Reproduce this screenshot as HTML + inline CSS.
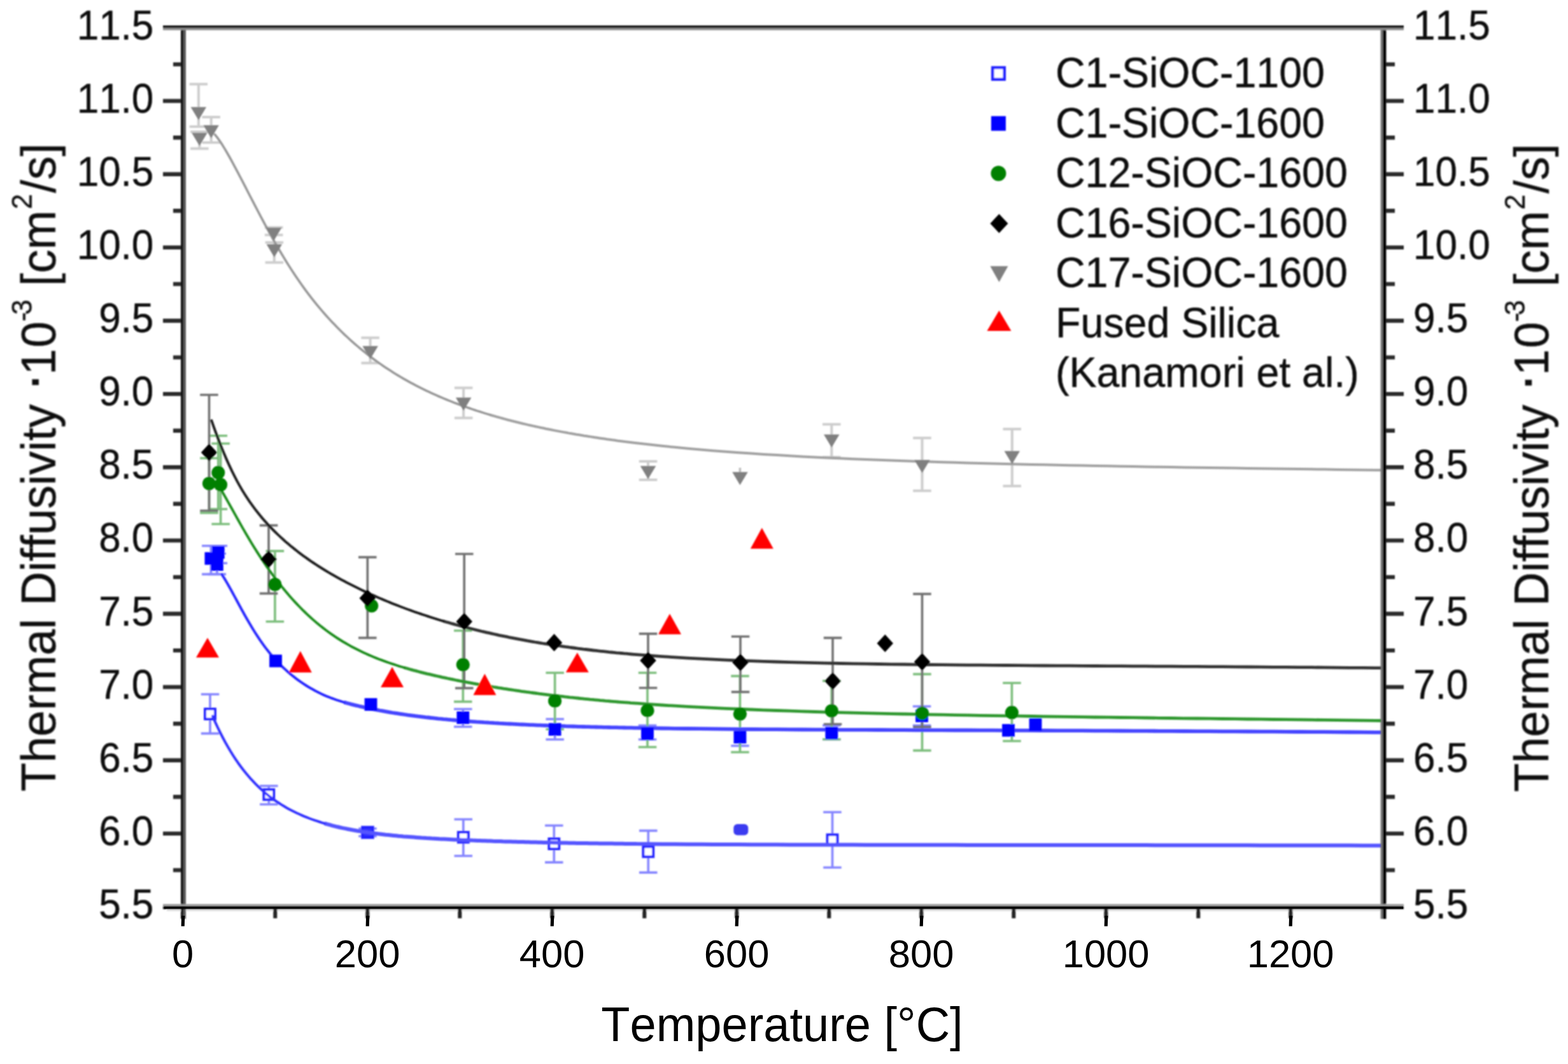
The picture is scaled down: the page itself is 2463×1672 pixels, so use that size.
<!DOCTYPE html>
<html lang="en">
<head>
<meta charset="utf-8">
<title>Thermal Diffusivity vs Temperature</title>
<style>
html,body{margin:0;padding:0;background:#fff;}
body{width:2463px;height:1672px;overflow:hidden;}
svg{display:block;}
text{font-family:"Liberation Sans",sans-serif;fill:#000;font-kerning:none;}
.yt{font-size:62px;fill:#111;stroke:#111;stroke-width:0.45px;}
.al{font-size:74px;fill:#111;stroke:#111;stroke-width:0.45px;}
.lg{font-size:64.5px;fill:#111;stroke:#111;stroke-width:0.45px;}
.xt{font-size:61.5px;}
.xl{font-size:74px;}
</style>
</head>
<body>
<svg width="2463" height="1672" viewBox="0 0 2463 1672">
<defs><filter id="soft" x="0" y="0" width="2463" height="1672" filterUnits="userSpaceOnUse"><feGaussianBlur stdDeviation="1.3"/></filter><filter id="soft2" x="0" y="0" width="2463" height="1672" filterUnits="userSpaceOnUse"><feGaussianBlur stdDeviation="0.8"/></filter></defs>
<rect width="2463" height="1672" fill="#fff"/>
<g filter="url(#soft)">
<g id="plot">
<path d="M311.9 132.3V199.0M297.6 132.3h28.5M297.6 199.0h28.5" stroke="#cdcdcd" stroke-width="4" fill="none" opacity="1"/>
<path d="M313.4 207.0V233.6M299.1 207.0h28.5M299.1 233.6h28.5" stroke="#cdcdcd" stroke-width="4" fill="none" opacity="1"/>
<path d="M331.7 184.0V223.9M317.4 184.0h28.5M317.4 223.9h28.5" stroke="#cdcdcd" stroke-width="4" fill="none" opacity="1"/>
<path d="M430.2 357.4V369.3M415.9 357.4h28.5M415.9 369.3h28.5" stroke="#cdcdcd" stroke-width="4" fill="none" opacity="1"/>
<path d="M430.8 381.0V412.4M416.6 381.0h28.5M416.6 412.4h28.5" stroke="#cdcdcd" stroke-width="4" fill="none" opacity="1"/>
<path d="M581.6 530.8V570.6M567.4 530.8h28.5M567.4 570.6h28.5" stroke="#cdcdcd" stroke-width="4" fill="none" opacity="1"/>
<path d="M728.1 609.4V656.8M713.9 609.4h28.5M713.9 656.8h28.5" stroke="#cdcdcd" stroke-width="4" fill="none" opacity="1"/>
<path d="M1018.0 725.0V754.0M1003.8 725.0h28.5M1003.8 754.0h28.5" stroke="#cdcdcd" stroke-width="4" fill="none" opacity="1"/>
<path d="M1306.3 666.8V718.5M1292.0 666.8h28.5M1292.0 718.5h28.5" stroke="#cdcdcd" stroke-width="4" fill="none" opacity="1"/>
<path d="M1448.5 688.3V771.3M1434.2 688.3h28.5M1434.2 771.3h28.5" stroke="#cdcdcd" stroke-width="4" fill="none" opacity="1"/>
<path d="M1589.8 674.3V763.7M1575.5 674.3h28.5M1575.5 763.7h28.5" stroke="#cdcdcd" stroke-width="4" fill="none" opacity="1"/>
<path d="M330.0 1091.0V1152.6M315.8 1091.0h28.5M315.8 1152.6h28.5" stroke="#8484ff" stroke-width="3.6" fill="none" opacity="1"/>
<path d="M422.3 1235.0V1264.0M408.1 1235.0h28.5M408.1 1264.0h28.5" stroke="#8484ff" stroke-width="3.6" fill="none" opacity="1"/>
<path d="M577.5 1302.0V1314.0M563.2 1302.0h28.5M563.2 1314.0h28.5" stroke="#8484ff" stroke-width="3.6" fill="none" opacity="1"/>
<path d="M727.8 1287.5V1345.0M713.5 1287.5h28.5M713.5 1345.0h28.5" stroke="#8484ff" stroke-width="3.6" fill="none" opacity="1"/>
<path d="M870.3 1297.3V1355.1M856.0 1297.3h28.5M856.0 1355.1h28.5" stroke="#8484ff" stroke-width="3.6" fill="none" opacity="1"/>
<path d="M1018.3 1305.4V1371.1M1004.0 1305.4h28.5M1004.0 1371.1h28.5" stroke="#8484ff" stroke-width="3.6" fill="none" opacity="1"/>
<path d="M1307.5 1276.3V1363.3M1293.2 1276.3h28.5M1293.2 1363.3h28.5" stroke="#8484ff" stroke-width="3.6" fill="none" opacity="1"/>
<path d="M331.4 857.7V902.4M317.1 857.7h28.5M317.1 902.4h28.5" stroke="#8484ff" stroke-width="3.6" fill="none" opacity="1"/>
<path d="M342.8 857.7V885.0M328.6 857.7h28.5M328.6 885.0h28.5" stroke="#8484ff" stroke-width="3.6" fill="none" opacity="1"/>
<path d="M340.9 870.0V902.4M326.6 870.0h28.5M326.6 902.4h28.5" stroke="#8484ff" stroke-width="3.6" fill="none" opacity="1"/>
<path d="M727.3 1114.2V1142.0M713.0 1114.2h28.5M713.0 1142.0h28.5" stroke="#8484ff" stroke-width="3.6" fill="none" opacity="1"/>
<path d="M871.6 1130.0V1162.0M857.4 1130.0h28.5M857.4 1162.0h28.5" stroke="#8484ff" stroke-width="3.6" fill="none" opacity="1"/>
<path d="M1017.0 1140.0V1162.0M1002.8 1140.0h28.5M1002.8 1162.0h28.5" stroke="#8484ff" stroke-width="3.6" fill="none" opacity="1"/>
<path d="M1162.4 1145.0V1172.0M1148.2 1145.0h28.5M1148.2 1172.0h28.5" stroke="#8484ff" stroke-width="3.6" fill="none" opacity="1"/>
<path d="M1306.3 1140.0V1161.7M1292.0 1140.0h28.5M1292.0 1161.7h28.5" stroke="#8484ff" stroke-width="3.6" fill="none" opacity="1"/>
<path d="M1448.0 1110.0V1140.0M1433.8 1110.0h28.5M1433.8 1140.0h28.5" stroke="#8484ff" stroke-width="3.6" fill="none" opacity="1"/>
<path d="M328.5 720.0V806.0M314.2 720.0h28.5M314.2 806.0h28.5" stroke="#7cbd7c" stroke-width="3.6" fill="none" opacity="1"/>
<path d="M342.8 684.7V800.0M328.6 684.7h28.5M328.6 800.0h28.5" stroke="#7cbd7c" stroke-width="3.6" fill="none" opacity="1"/>
<path d="M346.6 697.0V823.5M332.4 697.0h28.5M332.4 823.5h28.5" stroke="#7cbd7c" stroke-width="3.6" fill="none" opacity="1"/>
<path d="M431.9 865.9V976.8M417.6 865.9h28.5M417.6 976.8h28.5" stroke="#7cbd7c" stroke-width="3.6" fill="none" opacity="1"/>
<path d="M727.3 991.0V1102.6M713.0 991.0h28.5M713.0 1102.6h28.5" stroke="#7cbd7c" stroke-width="3.6" fill="none" opacity="1"/>
<path d="M871.6 1057.3V1146.0M857.4 1057.3h28.5M857.4 1146.0h28.5" stroke="#7cbd7c" stroke-width="3.6" fill="none" opacity="1"/>
<path d="M1017.0 1057.3V1174.0M1002.8 1057.3h28.5M1002.8 1174.0h28.5" stroke="#7cbd7c" stroke-width="3.6" fill="none" opacity="1"/>
<path d="M1162.4 1062.4V1182.0M1148.2 1062.4h28.5M1148.2 1182.0h28.5" stroke="#7cbd7c" stroke-width="3.6" fill="none" opacity="1"/>
<path d="M1306.3 1070.0V1161.7M1292.0 1070.0h28.5M1292.0 1161.7h28.5" stroke="#7cbd7c" stroke-width="3.6" fill="none" opacity="1"/>
<path d="M1448.5 1059.4V1179.4M1434.2 1059.4h28.5M1434.2 1179.4h28.5" stroke="#7cbd7c" stroke-width="3.6" fill="none" opacity="1"/>
<path d="M1589.4 1073.2V1164.5M1575.2 1073.2h28.5M1575.2 1164.5h28.5" stroke="#7cbd7c" stroke-width="3.6" fill="none" opacity="1"/>
<path d="M328.5 620.5V802.5M314.2 620.5h28.5M314.2 802.5h28.5" stroke="#707070" stroke-width="3.6" fill="none" opacity="1"/>
<path d="M422.0 825.6V932.6M407.8 825.6h28.5M407.8 932.6h28.5" stroke="#707070" stroke-width="3.6" fill="none" opacity="1"/>
<path d="M577.3 875.6V1002.4M563.0 875.6h28.5M563.0 1002.4h28.5" stroke="#707070" stroke-width="3.6" fill="none" opacity="1"/>
<path d="M729.2 870.5V1081.4M715.0 870.5h28.5M715.0 1081.4h28.5" stroke="#707070" stroke-width="3.6" fill="none" opacity="1"/>
<path d="M1018.0 995.9V1081.0M1003.8 995.9h28.5M1003.8 1081.0h28.5" stroke="#707070" stroke-width="3.6" fill="none" opacity="1"/>
<path d="M1163.0 1000.2V1087.4M1148.8 1000.2h28.5M1148.8 1087.4h28.5" stroke="#707070" stroke-width="3.6" fill="none" opacity="1"/>
<path d="M1308.0 1002.4V1138.0M1293.8 1002.4h28.5M1293.8 1138.0h28.5" stroke="#707070" stroke-width="3.6" fill="none" opacity="1"/>
<path d="M1448.5 933.4V1142.4M1434.2 933.4h28.5M1434.2 1142.4h28.5" stroke="#707070" stroke-width="3.6" fill="none" opacity="1"/>
<path d="M1162.4 735V744" stroke="#bdbdbd" stroke-width="3.5" fill="none"/>
<rect x="322.1" y="1114.1" width="15.8" height="15.8" fill="#fff" stroke="#2020ff" stroke-width="4.0"/>
<rect x="414.4" y="1240.7" width="15.8" height="15.8" fill="#fff" stroke="#2020ff" stroke-width="4.0"/>
<rect x="569.2" y="1299.8" width="16.5" height="16.5" fill="#3030ff" stroke="#2020ff" stroke-width="4.0"/>
<rect x="719.9" y="1307.8" width="15.8" height="15.8" fill="#fff" stroke="#2020ff" stroke-width="4.0"/>
<rect x="862.4" y="1318.1" width="15.8" height="15.8" fill="#fff" stroke="#2020ff" stroke-width="4.0"/>
<rect x="1010.4" y="1330.5" width="15.8" height="15.8" fill="#fff" stroke="#2020ff" stroke-width="4.0"/>
<rect x="1152.3" y="1294.9" width="23" height="17.6" rx="6" fill="#3a3af0"/>
<rect x="1299.6" y="1311.7" width="15.8" height="15.8" fill="#fff" stroke="#2020ff" stroke-width="4.0"/>
<path d="M509.9 1294.0 L513.9 1295.1 L517.9 1296.2 L521.9 1297.3 L525.9 1298.3 L529.9 1299.3 L533.9 1300.2 L537.9 1301.1 L541.9 1301.9 L545.9 1302.7 L549.9 1303.5 L553.9 1304.3 L557.9 1305.0 L561.9 1305.7 L565.9 1306.3 L569.9 1307.0 L573.9 1307.6 L577.9 1308.1 L581.9 1308.7 L585.9 1309.3 L589.9 1309.8 L593.9 1310.3 L597.9 1310.7 L601.9 1311.2 L605.9 1311.7 L609.9 1312.1 L613.9 1312.5 L617.9 1312.9 L621.9 1313.3 L625.9 1313.7 L629.9 1314.0 L633.9 1314.4 L637.9 1314.7 L641.9 1315.0 L645.9 1315.3 L649.9 1315.6 L653.9 1315.9 L657.9 1316.2 L661.9 1316.5 L665.9 1316.7 L669.9 1317.0 L673.9 1317.2 L677.9 1317.5 L681.9 1317.7 L685.9 1317.9 L689.9 1318.2 L693.9 1318.4 L697.9 1318.6 L701.9 1318.8 L705.9 1319.0 L709.9 1319.2 L713.9 1319.4 L717.9 1319.6 L721.9 1319.7 L725.9 1319.9 L729.9 1320.1 L733.9 1320.3 L737.9 1320.4 L741.9 1320.6 L745.9 1320.7 L749.9 1320.9 L753.9 1321.0 L757.9 1321.2 L761.9 1321.3 L765.9 1321.5 L769.9 1321.6 L773.9 1321.8 L777.9 1321.9 L781.9 1322.0 L785.9 1322.1 L789.9 1322.3 L793.9 1322.4 L797.9 1322.5 L801.9 1322.6 L805.9 1322.7 L809.9 1322.8 L813.9 1322.9 L817.9 1323.0 L821.9 1323.1 L825.9 1323.2 L829.9 1323.3 L833.9 1323.4 L837.9 1323.5 L841.9 1323.6 L845.9 1323.7 L849.9 1323.8 L853.9 1323.9 L857.9 1324.0 L861.9 1324.1 L865.9 1324.1 L869.9 1324.2 L873.9 1324.3 L877.9 1324.4 L881.9 1324.4 L885.9 1324.5 L889.9 1324.6 L893.9 1324.7 L897.9 1324.7 L901.9 1324.8 L905.9 1324.9 L909.9 1324.9 L913.9 1325.0 L917.9 1325.1 L921.9 1325.1 L925.9 1325.2 L929.9 1325.2 L933.9 1325.3 L937.9 1325.3 L941.9 1325.4 L945.9 1325.4 L949.9 1325.5 L953.9 1325.5 L957.9 1325.6 L961.9 1325.6 L965.9 1325.7 L969.9 1325.7 L973.9 1325.8 L977.9 1325.8 L981.9 1325.9 L985.9 1325.9 L989.9 1326.0 L993.9 1326.0 L997.9 1326.0 L1000.0 1326.1 L1020.0 1326.2 L1040.0 1326.4 L1060.0 1326.6 L1080.0 1326.7 L1100.0 1326.8 L1120.0 1326.9 L1140.0 1327.0 L1160.0 1327.1 L1180.0 1327.2 L1200.0 1327.3 L1220.0 1327.3 L1240.0 1327.4 L1260.0 1327.5 L1280.0 1327.5 L1300.0 1327.6 L1320.0 1327.6 L1340.0 1327.6 L1360.0 1327.7 L1380.0 1327.7 L1400.0 1327.7 L1420.0 1327.7 L1440.0 1327.8 L1460.0 1327.8 L1480.0 1327.8 L1500.0 1327.8 L1520.0 1327.9 L1540.0 1327.9 L1560.0 1327.9 L1580.0 1327.9 L1600.0 1327.9 L1620.0 1328.0 L1640.0 1328.0 L1660.0 1328.0 L1680.0 1328.0 L1700.0 1328.0 L1720.0 1328.0 L1740.0 1328.1 L1760.0 1328.1 L1780.0 1328.1 L1800.0 1328.1 L1820.0 1328.2 L1840.0 1328.2 L1860.0 1328.2 L1880.0 1328.2 L1900.0 1328.3 L1920.0 1328.3 L1940.0 1328.3 L1960.0 1328.3 L1980.0 1328.4 L2000.0 1328.4 L2020.0 1328.4 L2040.0 1328.5 L2060.0 1328.5 L2080.0 1328.5 L2100.0 1328.6 L2120.0 1328.6 L2140.0 1328.7 L2160.0 1328.7 L2171.5 1328.7" fill="none" stroke="#5454ff" stroke-width="6.0" stroke-linejoin="round"/>
<path d="M333.9 1125.4 L337.9 1134.4 L341.9 1143.0 L345.9 1151.2 L349.9 1159.0 L353.9 1166.5 L357.9 1173.5 L361.9 1180.3 L365.9 1186.7 L369.9 1192.8 L373.9 1198.7 L377.9 1204.2 L381.9 1209.5 L385.9 1214.5 L389.9 1219.3 L393.9 1223.9 L397.9 1228.2 L401.9 1232.4 L405.9 1236.3 L409.9 1240.1 L413.9 1243.6 L417.9 1247.0 L421.9 1250.3 L425.9 1253.4 L429.9 1256.3 L433.9 1259.2 L437.9 1261.8 L441.9 1264.4 L445.9 1266.8 L449.9 1269.2 L453.9 1271.4 L457.9 1273.5 L461.9 1275.5 L465.9 1277.5 L469.9 1279.3 L473.9 1281.1 L477.9 1282.8 L481.9 1284.4 L485.9 1286.0 L489.9 1287.5 L493.9 1288.9 L497.9 1290.2 L501.9 1291.5 L505.9 1292.8 L509.9 1294.0" fill="none" stroke="#3030ff" stroke-width="4.0" stroke-linejoin="round" stroke-linecap="round"/>
<path d="M540.5 1103.6 L544.5 1104.7 L548.5 1105.8 L552.5 1106.9 L556.5 1107.9 L560.5 1108.8 L564.5 1109.8 L568.5 1110.7 L572.5 1111.6 L576.5 1112.5 L580.5 1113.3 L584.5 1114.2 L588.5 1115.0 L592.5 1115.7 L596.5 1116.5 L600.5 1117.2 L604.5 1117.9 L608.5 1118.6 L612.5 1119.3 L616.5 1120.0 L620.5 1120.6 L624.5 1121.2 L628.5 1121.8 L632.5 1122.4 L636.5 1123.0 L640.5 1123.6 L644.5 1124.1 L648.5 1124.6 L652.5 1125.2 L656.5 1125.7 L660.5 1126.1 L664.5 1126.6 L668.5 1127.1 L672.5 1127.5 L676.5 1128.0 L680.5 1128.4 L684.5 1128.8 L688.5 1129.3 L692.5 1129.7 L696.5 1130.1 L700.5 1130.4 L704.5 1130.8 L708.5 1131.2 L712.5 1131.5 L716.5 1131.9 L720.5 1132.2 L724.5 1132.5 L728.5 1132.9 L732.5 1133.2 L736.5 1133.5 L740.5 1133.8 L744.5 1134.1 L748.5 1134.4 L752.5 1134.6 L756.5 1134.9 L760.5 1135.2 L764.5 1135.4 L768.5 1135.7 L772.5 1135.9 L776.5 1136.2 L780.5 1136.4 L784.5 1136.7 L788.5 1136.9 L792.5 1137.1 L796.5 1137.3 L800.5 1137.5 L804.5 1137.7 L808.5 1137.9 L812.5 1138.1 L816.5 1138.3 L820.5 1138.5 L824.5 1138.7 L828.5 1138.9 L832.5 1139.1 L836.5 1139.2 L840.5 1139.4 L844.5 1139.6 L848.5 1139.7 L852.5 1139.9 L856.5 1140.0 L860.5 1140.2 L864.5 1140.3 L868.5 1140.5 L872.5 1140.6 L876.5 1140.8 L880.5 1140.9 L884.5 1141.0 L888.5 1141.2 L892.5 1141.3 L896.5 1141.4 L900.5 1141.5 L904.5 1141.6 L908.5 1141.8 L912.5 1141.9 L916.5 1142.0 L920.5 1142.1 L924.5 1142.2 L928.5 1142.3 L932.5 1142.4 L936.5 1142.5 L940.5 1142.6 L944.5 1142.7 L948.5 1142.8 L952.5 1142.9 L956.5 1143.0 L960.5 1143.1 L964.5 1143.2 L968.5 1143.2 L972.5 1143.3 L976.5 1143.4 L980.5 1143.5 L984.5 1143.6 L988.5 1143.6 L992.5 1143.7 L996.5 1143.8 L1000.0 1143.8 L1020.0 1144.2 L1040.0 1144.5 L1060.0 1144.8 L1080.0 1145.0 L1100.0 1145.2 L1120.0 1145.4 L1140.0 1145.6 L1160.0 1145.8 L1180.0 1146.0 L1200.0 1146.1 L1220.0 1146.2 L1240.0 1146.4 L1260.0 1146.5 L1280.0 1146.6 L1300.0 1146.7 L1320.0 1146.8 L1340.0 1146.9 L1360.0 1146.9 L1380.0 1147.0 L1400.0 1147.1 L1420.0 1147.2 L1440.0 1147.3 L1460.0 1147.3 L1480.0 1147.4 L1500.0 1147.5 L1520.0 1147.5 L1540.0 1147.6 L1560.0 1147.7 L1580.0 1147.8 L1600.0 1147.8 L1620.0 1147.9 L1640.0 1148.0 L1660.0 1148.1 L1680.0 1148.1 L1700.0 1148.2 L1720.0 1148.3 L1740.0 1148.4 L1760.0 1148.5 L1780.0 1148.6 L1800.0 1148.7 L1820.0 1148.8 L1840.0 1148.9 L1860.0 1149.0 L1880.0 1149.1 L1900.0 1149.2 L1920.0 1149.3 L1940.0 1149.4 L1960.0 1149.5 L1980.0 1149.6 L2000.0 1149.7 L2020.0 1149.9 L2040.0 1150.0 L2060.0 1150.1 L2080.0 1150.2 L2100.0 1150.4 L2120.0 1150.5 L2140.0 1150.7 L2160.0 1150.8 L2171.5 1150.9" fill="none" stroke="#4444ff" stroke-width="5.8" stroke-linejoin="round"/>
<path d="M348.5 902.7 L352.5 909.0 L356.5 915.8 L360.5 922.8 L364.5 930.0 L368.5 937.4 L372.5 944.8 L376.5 952.2 L380.5 959.5 L384.5 966.7 L388.5 973.7 L392.5 980.6 L396.5 987.3 L400.5 993.7 L404.5 999.9 L408.5 1005.9 L412.5 1011.6 L416.5 1017.1 L420.5 1022.3 L424.5 1027.3 L428.5 1032.0 L432.5 1036.5 L436.5 1040.8 L440.5 1044.8 L444.5 1048.7 L448.5 1052.4 L452.5 1056.0 L456.5 1059.4 L460.5 1062.7 L464.5 1065.8 L468.5 1068.8 L472.5 1071.7 L476.5 1074.4 L480.5 1077.0 L484.5 1079.5 L488.5 1081.8 L492.5 1084.1 L496.5 1086.3 L500.5 1088.3 L504.5 1090.2 L508.5 1092.1 L512.5 1093.8 L516.5 1095.4 L520.5 1097.0 L524.5 1098.4 L528.5 1099.8 L532.5 1101.1 L536.5 1102.4 L540.5 1103.6" fill="none" stroke="#2626ff" stroke-width="4.0" stroke-linejoin="round" stroke-linecap="round"/>
<path d="M635.0 1049.2 L639.0 1050.3 L643.0 1051.5 L647.0 1052.6 L651.0 1053.7 L655.0 1054.7 L659.0 1055.8 L663.0 1056.8 L667.0 1057.8 L671.0 1058.8 L675.0 1059.7 L679.0 1060.7 L683.0 1061.6 L687.0 1062.5 L691.0 1063.4 L695.0 1064.3 L699.0 1065.1 L703.0 1066.0 L707.0 1066.8 L711.0 1067.6 L715.0 1068.5 L719.0 1069.3 L723.0 1070.1 L727.0 1070.8 L731.0 1071.6 L735.0 1072.4 L739.0 1073.1 L743.0 1073.9 L747.0 1074.6 L751.0 1075.3 L755.0 1076.0 L759.0 1076.8 L763.0 1077.4 L767.0 1078.1 L771.0 1078.8 L775.0 1079.5 L779.0 1080.1 L783.0 1080.8 L787.0 1081.4 L791.0 1082.1 L795.0 1082.7 L799.0 1083.3 L803.0 1083.9 L807.0 1084.5 L811.0 1085.1 L815.0 1085.7 L819.0 1086.3 L823.0 1086.8 L827.0 1087.4 L831.0 1087.9 L835.0 1088.5 L839.0 1089.0 L843.0 1089.5 L847.0 1090.1 L851.0 1090.6 L855.0 1091.1 L859.0 1091.6 L863.0 1092.1 L867.0 1092.6 L871.0 1093.0 L875.0 1093.5 L879.0 1094.0 L883.0 1094.4 L887.0 1094.9 L891.0 1095.3 L895.0 1095.8 L899.0 1096.2 L903.0 1096.6 L907.0 1097.0 L911.0 1097.5 L915.0 1097.9 L919.0 1098.3 L923.0 1098.7 L927.0 1099.1 L931.0 1099.4 L935.0 1099.8 L939.0 1100.2 L943.0 1100.6 L947.0 1100.9 L951.0 1101.3 L955.0 1101.6 L959.0 1102.0 L963.0 1102.3 L967.0 1102.6 L971.0 1103.0 L975.0 1103.3 L979.0 1103.6 L983.0 1103.9 L987.0 1104.2 L991.0 1104.6 L995.0 1104.9 L999.0 1105.2 L1000.0 1105.2 L1020.0 1106.6 L1040.0 1108.0 L1060.0 1109.2 L1080.0 1110.3 L1100.0 1111.4 L1120.0 1112.4 L1140.0 1113.3 L1160.0 1114.2 L1180.0 1115.0 L1200.0 1115.8 L1220.0 1116.5 L1240.0 1117.2 L1260.0 1117.9 L1280.0 1118.5 L1300.0 1119.1 L1320.0 1119.6 L1340.0 1120.1 L1360.0 1120.6 L1380.0 1121.1 L1400.0 1121.6 L1420.0 1122.0 L1440.0 1122.4 L1460.0 1122.8 L1480.0 1123.2 L1500.0 1123.6 L1520.0 1123.9 L1540.0 1124.3 L1560.0 1124.6 L1580.0 1124.9 L1600.0 1125.2 L1620.0 1125.5 L1640.0 1125.8 L1660.0 1126.1 L1680.0 1126.4 L1700.0 1126.7 L1720.0 1127.0 L1740.0 1127.2 L1760.0 1127.5 L1780.0 1127.7 L1800.0 1128.0 L1820.0 1128.3 L1840.0 1128.5 L1860.0 1128.8 L1880.0 1129.0 L1900.0 1129.2 L1920.0 1129.5 L1940.0 1129.7 L1960.0 1130.0 L1980.0 1130.2 L2000.0 1130.5 L2020.0 1130.7 L2040.0 1130.9 L2060.0 1131.2 L2080.0 1131.4 L2100.0 1131.7 L2120.0 1131.9 L2140.0 1132.1 L2160.0 1132.4 L2171.5 1132.5" fill="none" stroke="#2f972f" stroke-width="4.8" stroke-linejoin="round"/>
<path d="M343.0 762.8 L347.0 769.3 L351.0 776.1 L355.0 783.0 L359.0 790.1 L363.0 797.3 L367.0 804.4 L371.0 811.6 L375.0 818.8 L379.0 825.9 L383.0 832.9 L387.0 839.8 L391.0 846.6 L395.0 853.2 L399.0 859.7 L403.0 866.1 L407.0 872.4 L411.0 878.5 L415.0 884.5 L419.0 890.3 L423.0 896.0 L427.0 901.5 L431.0 906.9 L435.0 912.2 L439.0 917.4 L443.0 922.4 L447.0 927.3 L451.0 932.1 L455.0 936.7 L459.0 941.2 L463.0 945.6 L467.0 949.9 L471.0 954.0 L475.0 958.1 L479.0 962.0 L483.0 965.8 L487.0 969.5 L491.0 973.1 L495.0 976.6 L499.0 980.0 L503.0 983.3 L507.0 986.4 L511.0 989.5 L515.0 992.5 L519.0 995.4 L523.0 998.2 L527.0 1000.9 L531.0 1003.5 L535.0 1006.0 L539.0 1008.5 L543.0 1010.8 L547.0 1013.1 L551.0 1015.4 L555.0 1017.5 L559.0 1019.6 L563.0 1021.6 L567.0 1023.6 L571.0 1025.5 L575.0 1027.3 L579.0 1029.1 L583.0 1030.8 L587.0 1032.5 L591.0 1034.1 L595.0 1035.7 L599.0 1037.2 L603.0 1038.7 L607.0 1040.1 L611.0 1041.5 L615.0 1042.9 L619.0 1044.2 L623.0 1045.5 L627.0 1046.8 L631.0 1048.0 L635.0 1049.2" fill="none" stroke="#1a8c1a" stroke-width="3.9" stroke-linejoin="round" stroke-linecap="round"/>
<path d="M769.5 651.8 L773.5 653.0 L777.5 654.1 L781.5 655.3 L785.5 656.4 L789.5 657.5 L793.5 658.6 L797.5 659.7 L801.5 660.7 L805.5 661.7 L809.5 662.7 L813.5 663.7 L817.5 664.7 L821.5 665.7 L825.5 666.6 L829.5 667.6 L833.5 668.5 L837.5 669.4 L841.5 670.3 L845.5 671.1 L849.5 672.0 L853.5 672.8 L857.5 673.7 L861.5 674.5 L865.5 675.3 L869.5 676.1 L873.5 676.9 L877.5 677.6 L881.5 678.4 L885.5 679.1 L889.5 679.8 L893.5 680.6 L897.5 681.3 L901.5 682.0 L905.5 682.7 L909.5 683.3 L913.5 684.0 L917.5 684.7 L921.5 685.3 L925.5 685.9 L929.5 686.6 L933.5 687.2 L937.5 687.8 L941.5 688.4 L945.5 689.0 L949.5 689.6 L953.5 690.2 L957.5 690.7 L961.5 691.3 L965.5 691.8 L969.5 692.4 L973.5 692.9 L977.5 693.4 L981.5 694.0 L985.5 694.5 L989.5 695.0 L993.5 695.5 L997.5 696.0 L1000.0 696.3 L1020.0 698.6 L1040.0 700.8 L1060.0 702.8 L1080.0 704.7 L1100.0 706.5 L1120.0 708.2 L1140.0 709.7 L1160.0 711.2 L1180.0 712.6 L1200.0 713.9 L1220.0 715.1 L1240.0 716.3 L1260.0 717.4 L1280.0 718.4 L1300.0 719.4 L1320.0 720.3 L1340.0 721.2 L1360.0 722.0 L1380.0 722.8 L1400.0 723.5 L1420.0 724.3 L1440.0 724.9 L1460.0 725.6 L1480.0 726.2 L1500.0 726.8 L1520.0 727.4 L1540.0 727.9 L1560.0 728.4 L1580.0 728.9 L1600.0 729.4 L1620.0 729.9 L1640.0 730.3 L1660.0 730.8 L1680.0 731.2 L1700.0 731.6 L1720.0 732.0 L1740.0 732.3 L1760.0 732.7 L1780.0 733.1 L1800.0 733.4 L1820.0 733.8 L1840.0 734.1 L1860.0 734.4 L1880.0 734.7 L1900.0 735.0 L1920.0 735.3 L1940.0 735.6 L1960.0 735.9 L1980.0 736.2 L2000.0 736.5 L2020.0 736.8 L2040.0 737.1 L2060.0 737.3 L2080.0 737.6 L2100.0 737.9 L2120.0 738.2 L2140.0 738.4 L2160.0 738.7 L2171.5 738.8" fill="none" stroke="#a0a0a0" stroke-width="4.0" stroke-linejoin="round"/>
<path d="M337.5 211.3 L341.5 216.4 L345.5 222.0 L349.5 228.1 L353.5 234.6 L357.5 241.5 L361.5 248.5 L365.5 255.8 L369.5 263.3 L373.5 270.8 L377.5 278.5 L381.5 286.2 L385.5 293.9 L389.5 301.7 L393.5 309.5 L397.5 317.2 L401.5 324.9 L405.5 332.5 L409.5 340.1 L413.5 347.6 L417.5 355.1 L421.5 362.4 L425.5 369.6 L429.5 376.8 L433.5 383.8 L437.5 390.7 L441.5 397.5 L445.5 404.2 L449.5 410.7 L453.5 417.1 L457.5 423.4 L461.5 429.5 L465.5 435.5 L469.5 441.3 L473.5 447.0 L477.5 452.6 L481.5 458.1 L485.5 463.4 L489.5 468.6 L493.5 473.6 L497.5 478.6 L501.5 483.4 L505.5 488.1 L509.5 492.7 L513.5 497.2 L517.5 501.6 L521.5 505.9 L525.5 510.1 L529.5 514.3 L533.5 518.3 L537.5 522.2 L541.5 526.1 L545.5 529.8 L549.5 533.5 L553.5 537.1 L557.5 540.6 L561.5 544.0 L565.5 547.4 L569.5 550.7 L573.5 553.9 L577.5 557.1 L581.5 560.2 L585.5 563.2 L589.5 566.2 L593.5 569.1 L597.5 571.9 L601.5 574.7 L605.5 577.4 L609.5 580.0 L613.5 582.6 L617.5 585.2 L621.5 587.7 L625.5 590.1 L629.5 592.5 L633.5 594.9 L637.5 597.1 L641.5 599.4 L645.5 601.6 L649.5 603.7 L653.5 605.8 L657.5 607.9 L661.5 609.9 L665.5 611.9 L669.5 613.8 L673.5 615.7 L677.5 617.6 L681.5 619.4 L685.5 621.2 L689.5 623.0 L693.5 624.7 L697.5 626.4 L701.5 628.0 L705.5 629.6 L709.5 631.2 L713.5 632.8 L717.5 634.3 L721.5 635.8 L725.5 637.3 L729.5 638.7 L733.5 640.1 L737.5 641.5 L741.5 642.9 L745.5 644.2 L749.5 645.6 L753.5 646.8 L757.5 648.1 L761.5 649.4 L765.5 650.6 L769.5 651.8" fill="none" stroke="#979797" stroke-width="3.6" stroke-linejoin="round" stroke-linecap="round"/>
<path d="M696.3 976.0 L700.3 977.2 L704.3 978.3 L708.3 979.5 L712.3 980.6 L716.3 981.7 L720.3 982.8 L724.3 983.9 L728.3 985.0 L732.3 986.0 L736.3 987.0 L740.3 988.0 L744.3 989.0 L748.3 990.0 L752.3 991.0 L756.3 992.0 L760.3 992.9 L764.3 993.8 L768.3 994.7 L772.3 995.6 L776.3 996.5 L780.3 997.4 L784.3 998.3 L788.3 999.1 L792.3 999.9 L796.3 1000.7 L800.3 1001.6 L804.3 1002.3 L808.3 1003.1 L812.3 1003.9 L816.3 1004.7 L820.3 1005.4 L824.3 1006.1 L828.3 1006.9 L832.3 1007.6 L836.3 1008.3 L840.3 1009.0 L844.3 1009.6 L848.3 1010.3 L852.3 1011.0 L856.3 1011.6 L860.3 1012.2 L864.3 1012.9 L868.3 1013.5 L872.3 1014.1 L876.3 1014.7 L880.3 1015.2 L884.3 1015.8 L888.3 1016.4 L892.3 1016.9 L896.3 1017.5 L900.3 1018.0 L904.3 1018.5 L908.3 1019.1 L912.3 1019.6 L916.3 1020.1 L920.3 1020.5 L924.3 1021.0 L928.3 1021.5 L932.3 1022.0 L936.3 1022.4 L940.3 1022.9 L944.3 1023.3 L948.3 1023.7 L952.3 1024.1 L956.3 1024.6 L960.3 1025.0 L964.3 1025.4 L968.3 1025.8 L972.3 1026.1 L976.3 1026.5 L980.3 1026.9 L984.3 1027.2 L988.3 1027.6 L992.3 1028.0 L996.3 1028.3 L1000.0 1028.6 L1020.0 1030.2 L1040.0 1031.6 L1060.0 1032.9 L1080.0 1034.1 L1100.0 1035.2 L1120.0 1036.2 L1140.0 1037.1 L1160.0 1038.0 L1180.0 1038.7 L1200.0 1039.4 L1220.0 1040.0 L1240.0 1040.6 L1260.0 1041.1 L1280.0 1041.6 L1300.0 1042.1 L1320.0 1042.5 L1340.0 1042.8 L1360.0 1043.2 L1380.0 1043.5 L1400.0 1043.8 L1420.0 1044.0 L1440.0 1044.3 L1460.0 1044.5 L1480.0 1044.7 L1500.0 1044.9 L1520.0 1045.1 L1540.0 1045.2 L1560.0 1045.4 L1580.0 1045.5 L1600.0 1045.7 L1620.0 1045.8 L1640.0 1046.0 L1660.0 1046.1 L1680.0 1046.2 L1700.0 1046.3 L1720.0 1046.5 L1740.0 1046.6 L1760.0 1046.7 L1780.0 1046.8 L1800.0 1046.9 L1820.0 1047.1 L1840.0 1047.2 L1860.0 1047.3 L1880.0 1047.4 L1900.0 1047.6 L1920.0 1047.7 L1940.0 1047.8 L1960.0 1048.0 L1980.0 1048.1 L2000.0 1048.3 L2020.0 1048.4 L2040.0 1048.6 L2060.0 1048.7 L2080.0 1048.9 L2100.0 1049.1 L2120.0 1049.3 L2140.0 1049.4 L2160.0 1049.6 L2171.5 1049.7" fill="none" stroke="#303030" stroke-width="4.8" stroke-linejoin="round"/>
<path d="M332.3 660.9 L336.3 672.3 L340.3 683.2 L344.3 693.8 L348.3 703.9 L352.3 713.6 L356.3 722.9 L360.3 731.7 L364.3 740.2 L368.3 748.2 L372.3 755.9 L376.3 763.1 L380.3 770.0 L384.3 776.5 L388.3 782.7 L392.3 788.6 L396.3 794.2 L400.3 799.6 L404.3 804.8 L408.3 809.8 L412.3 814.6 L416.3 819.1 L420.3 823.6 L424.3 827.9 L428.3 832.0 L432.3 836.0 L436.3 839.9 L440.3 843.6 L444.3 847.3 L448.3 850.9 L452.3 854.3 L456.3 857.7 L460.3 860.9 L464.3 864.1 L468.3 867.3 L472.3 870.3 L476.3 873.3 L480.3 876.2 L484.3 879.0 L488.3 881.8 L492.3 884.5 L496.3 887.1 L500.3 889.7 L504.3 892.2 L508.3 894.7 L512.3 897.2 L516.3 899.6 L520.3 901.9 L524.3 904.2 L528.3 906.5 L532.3 908.7 L536.3 910.9 L540.3 913.1 L544.3 915.2 L548.3 917.3 L552.3 919.3 L556.3 921.3 L560.3 923.3 L564.3 925.3 L568.3 927.2 L572.3 929.1 L576.3 931.0 L580.3 932.8 L584.3 934.7 L588.3 936.4 L592.3 938.2 L596.3 940.0 L600.3 941.7 L604.3 943.4 L608.3 945.0 L612.3 946.7 L616.3 948.3 L620.3 949.9 L624.3 951.4 L628.3 953.0 L632.3 954.5 L636.3 956.0 L640.3 957.5 L644.3 958.9 L648.3 960.4 L652.3 961.8 L656.3 963.2 L660.3 964.5 L664.3 965.9 L668.3 967.2 L672.3 968.5 L676.3 969.8 L680.3 971.1 L684.3 972.3 L688.3 973.6 L692.3 974.8 L696.3 976.0" fill="none" stroke="#1c1c1c" stroke-width="4.0" stroke-linejoin="round" stroke-linecap="round"/>
<rect x="321.5" y="867.7" width="19.8" height="19.8" fill="#0000ff"/>
<rect x="332.9" y="858.2" width="19.8" height="19.8" fill="#0000ff"/>
<rect x="331.0" y="877.2" width="19.8" height="19.8" fill="#0000ff"/>
<rect x="423.1" y="1028.7" width="19.8" height="19.8" fill="#0000ff"/>
<rect x="572.6" y="1097.1" width="19.8" height="19.8" fill="#0000ff"/>
<rect x="717.4" y="1117.9" width="19.8" height="19.8" fill="#0000ff"/>
<rect x="861.7" y="1136.3" width="19.8" height="19.8" fill="#0000ff"/>
<rect x="1007.1" y="1143.1" width="19.8" height="19.8" fill="#0000ff"/>
<rect x="1152.5" y="1148.6" width="19.8" height="19.8" fill="#0000ff"/>
<rect x="1296.4" y="1142.1" width="19.8" height="19.8" fill="#0000ff"/>
<rect x="1438.1" y="1115.1" width="19.8" height="19.8" fill="#0000ff"/>
<rect x="1574.1" y="1137.8" width="19.8" height="19.8" fill="#0000ff"/>
<rect x="1616.6" y="1128.8" width="19.8" height="19.8" fill="#0000ff"/>
<circle cx="328.5" cy="759.8" r="10.6" fill="#008000"/>
<circle cx="342.8" cy="742.7" r="10.6" fill="#008000"/>
<circle cx="346.6" cy="761.7" r="10.6" fill="#008000"/>
<circle cx="431.9" cy="918.6" r="10.6" fill="#008000"/>
<circle cx="583.7" cy="952.0" r="10.6" fill="#008000"/>
<circle cx="727.3" cy="1044.6" r="10.6" fill="#008000"/>
<circle cx="871.6" cy="1101.4" r="10.6" fill="#008000"/>
<circle cx="1017.0" cy="1116.5" r="10.6" fill="#008000"/>
<circle cx="1162.4" cy="1122.0" r="10.6" fill="#008000"/>
<circle cx="1306.3" cy="1117.0" r="10.6" fill="#008000"/>
<circle cx="1448.5" cy="1120.8" r="10.6" fill="#008000"/>
<circle cx="1589.4" cy="1119.7" r="10.6" fill="#008000"/>
<path d="M299.6 168.2h24.5L311.9 188.8z" fill="#808080"/>
<path d="M301.1 208.8h24.5L313.4 229.2z" fill="#808080"/>
<path d="M319.4 196.8h24.5L331.7 217.2z" fill="#808080"/>
<path d="M417.9 357.8h24.5L430.2 378.2z" fill="#808080"/>
<path d="M418.6 383.8h24.5L430.8 404.2z" fill="#808080"/>
<path d="M569.4 543.8h24.5L581.6 564.2z" fill="#808080"/>
<path d="M715.9 624.8h24.5L728.1 645.2z" fill="#808080"/>
<path d="M1005.8 732.2h24.5L1018.0 752.8z" fill="#808080"/>
<path d="M1150.2 741.8h24.5L1162.4 762.2z" fill="#808080"/>
<path d="M1294.0 682.8h24.5L1306.3 703.2z" fill="#808080"/>
<path d="M1436.2 722.8h24.5L1448.5 743.2z" fill="#808080"/>
<path d="M1577.5 708.8h24.5L1589.8 729.2z" fill="#808080"/>
<path d="M315.8 711.0L328.5 697.2L341.2 711.0L328.5 724.8z" fill="#000"/>
<path d="M409.2 878.8L422.0 865.0L434.8 878.8L422.0 892.5z" fill="#000"/>
<path d="M564.5 940.0L577.3 926.2L590.0 940.0L577.3 953.8z" fill="#000"/>
<path d="M716.5 976.8L729.2 963.0L742.0 976.8L729.2 990.5z" fill="#000"/>
<path d="M857.8 1009.9L870.5 996.1L883.2 1009.9L870.5 1023.6z" fill="#000"/>
<path d="M1005.2 1037.9L1018.0 1024.2L1030.8 1037.9L1018.0 1051.7z" fill="#000"/>
<path d="M1150.2 1041.0L1163.0 1027.2L1175.8 1041.0L1163.0 1054.8z" fill="#000"/>
<path d="M1295.2 1070.2L1308.0 1056.5L1320.8 1070.2L1308.0 1084.0z" fill="#000"/>
<path d="M1377.5 1010.9L1390.3 997.1L1403.0 1010.9L1390.3 1024.7z" fill="#000"/>
<path d="M1435.8 1040.0L1448.5 1026.2L1461.2 1040.0L1448.5 1053.8z" fill="#000"/>
<path d="M308.0 1033.3h36L326.0 1002.3z" fill="#ff0000"/>
<path d="M453.8 1056.7h36L471.8 1023.1z" fill="#ff0000"/>
<path d="M598.0 1080.1h36L616.0 1048.0z" fill="#ff0000"/>
<path d="M743.4 1092.2h36L761.4 1058.7z" fill="#ff0000"/>
<path d="M888.8 1056.5h36L906.8 1025.5z" fill="#ff0000"/>
<path d="M1034.0 996.8h36L1052.0 964.6z" fill="#ff0000"/>
<path d="M1178.8 862.3h36L1196.8 829.5z" fill="#ff0000"/>
</g>
<g id="legend-markers">
<rect x="1559.2" y="106.2" width="18.5" height="18.5" fill="#fff" stroke="#2020ff" stroke-width="4.5"/>
<rect x="1556.9" y="182.5" width="23" height="23" fill="#0000ff"/>
<circle cx="1568.4" cy="272.6" r="12" fill="#008000"/>
<path d="M1555.4 351.2L1569.4 336.2L1583.4 351.2L1569.4 366.2z" fill="#000"/>
<path d="M1555.4 418.3h28L1569.4 443.3z" fill="#808080"/>
<path d="M1550.4 520.0h38L1569.4 488.0z" fill="#ff0000"/>
</g>
<g id="labels">
<text transform="translate(241.3 1443.0) scale(1 1.05)" text-anchor="end" class="yt">5.5</text>
<text transform="translate(2220 1443.0) scale(1 1.05)" class="yt">5.5</text>
<text transform="translate(241.3 1327.9) scale(1 1.05)" text-anchor="end" class="yt">6.0</text>
<text transform="translate(2220 1327.9) scale(1 1.05)" class="yt">6.0</text>
<text transform="translate(241.3 1212.8) scale(1 1.05)" text-anchor="end" class="yt">6.5</text>
<text transform="translate(2220 1212.8) scale(1 1.05)" class="yt">6.5</text>
<text transform="translate(241.3 1097.6) scale(1 1.05)" text-anchor="end" class="yt">7.0</text>
<text transform="translate(2220 1097.6) scale(1 1.05)" class="yt">7.0</text>
<text transform="translate(241.3 982.5) scale(1 1.05)" text-anchor="end" class="yt">7.5</text>
<text transform="translate(2220 982.5) scale(1 1.05)" class="yt">7.5</text>
<text transform="translate(241.3 867.4) scale(1 1.05)" text-anchor="end" class="yt">8.0</text>
<text transform="translate(2220 867.4) scale(1 1.05)" class="yt">8.0</text>
<text transform="translate(241.3 752.2) scale(1 1.05)" text-anchor="end" class="yt">8.5</text>
<text transform="translate(2220 752.2) scale(1 1.05)" class="yt">8.5</text>
<text transform="translate(241.3 637.1) scale(1 1.05)" text-anchor="end" class="yt">9.0</text>
<text transform="translate(2220 637.1) scale(1 1.05)" class="yt">9.0</text>
<text transform="translate(241.3 522.0) scale(1 1.05)" text-anchor="end" class="yt">9.5</text>
<text transform="translate(2220 522.0) scale(1 1.05)" class="yt">9.5</text>
<text transform="translate(241.3 406.9) scale(1 1.05)" text-anchor="end" class="yt">10.0</text>
<text transform="translate(2220 406.9) scale(1 1.05)" class="yt">10.0</text>
<text transform="translate(241.3 291.8) scale(1 1.05)" text-anchor="end" class="yt">10.5</text>
<text transform="translate(2220 291.8) scale(1 1.05)" class="yt">10.5</text>
<text transform="translate(241.3 176.6) scale(1 1.05)" text-anchor="end" class="yt">11.0</text>
<text transform="translate(2220 176.6) scale(1 1.05)" class="yt">11.0</text>
<text transform="translate(241.3 61.5) scale(1 1.05)" text-anchor="end" class="yt">11.5</text>
<text transform="translate(2220 61.5) scale(1 1.05)" class="yt">11.5</text>
<text transform="translate(86.3 1243.7) rotate(-90) scale(1 1.03)" class="al">Thermal Diffusivity <tspan dx="-0.8" dy="-5.2" font-size="90">·</tspan><tspan dx="-3.6" dy="5.2" style="letter-spacing:1.8px">10</tspan><tspan dx="-1.8" dy="-36" font-size="43" style="letter-spacing:-4px">-3</tspan><tspan dx="4.4" dy="36"> [cm</tspan><tspan dx="2" dy="-36" font-size="43">2</tspan><tspan dx="1.6" dy="36">/s]</tspan></text>
<text transform="translate(2431.5 1244.5) rotate(-90) scale(1 1.03)" class="al">Thermal Diffusivity <tspan dx="-0.8" dy="-5.2" font-size="90">·</tspan><tspan dx="-3.6" dy="5.2" style="letter-spacing:1.8px">10</tspan><tspan dx="-1.8" dy="-36" font-size="43" style="letter-spacing:-4px">-3</tspan><tspan dx="4.4" dy="36"> [cm</tspan><tspan dx="2" dy="-36" font-size="43">2</tspan><tspan dx="1.6" dy="36">/s]</tspan></text>
<text transform="translate(1658 137.3) scale(1 1.04)" class="lg">C1-SiOC-1100</text>
<text transform="translate(1658 215.8) scale(1 1.04)" class="lg">C1-SiOC-1600</text>
<text transform="translate(1658 294.3) scale(1 1.04)" class="lg">C12-SiOC-1600</text>
<text transform="translate(1658 372.8) scale(1 1.04)" class="lg">C16-SiOC-1600</text>
<text transform="translate(1658 451.3) scale(1 1.04)" class="lg">C17-SiOC-1600</text>
<text transform="translate(1658 529.8) scale(1 1.04)" class="lg">Fused Silica</text>
<text transform="translate(1658 608.3) scale(1 1.04)" class="lg">(Kanamori et al.)</text>
</g>
</g>
<g id="axes" filter="url(#soft2)">
<rect x="262" y="1428.4" width="1908" height="3.2" fill="#dedede"/>
<rect x="284" y="40" width="4.2" height="1404" fill="#141414"/>
<rect x="288" y="40" width="4" height="1404" fill="#5a5a5a"/>
<rect x="2168.6" y="40" width="4.2" height="1404" fill="#707070"/>
<rect x="2172.4" y="40" width="5" height="1404" fill="#000"/>
<rect x="256" y="40" width="1949" height="4" fill="#141414"/>
<rect x="256" y="43.8" width="1949" height="3.6" fill="#8c8c8c"/>
<rect x="256" y="1420.7" width="1949" height="4" fill="#999"/>
<rect x="256" y="1424.5" width="1949" height="4" fill="#000"/>
<path d="M256 1309.9H284M2177 1309.9H2205M256 1194.8H284M2177 1194.8H2205M256 1079.6H284M2177 1079.6H2205M256 964.5H284M2177 964.5H2205M256 849.4H284M2177 849.4H2205M256 734.2H284M2177 734.2H2205M256 619.1H284M2177 619.1H2205M256 504.0H284M2177 504.0H2205M256 388.9H284M2177 388.9H2205M256 273.8H284M2177 273.8H2205M256 158.6H284M2177 158.6H2205M272 1367.4H284M2177 1367.4H2191M272 1252.3H284M2177 1252.3H2191M272 1137.2H284M2177 1137.2H2191M272 1022.1H284M2177 1022.1H2191M272 906.9H284M2177 906.9H2191M272 791.8H284M2177 791.8H2191M272 676.7H284M2177 676.7H2191M272 561.6H284M2177 561.6H2191M272 446.4H284M2177 446.4H2191M272 331.3H284M2177 331.3H2191M272 216.2H284M2177 216.2H2191M272 101.1H284M2177 101.1H2191" stroke="#2a2a2a" stroke-width="6.4" fill="none"/>
<path d="M432.3 1425.0V1443M577.3 1425.0V1443M722.3 1425.0V1443M867.3 1425.0V1443M1012.3 1425.0V1443M1157.3 1425.0V1443M1302.3 1425.0V1443M1447.3 1425.0V1443M1592.3 1425.0V1443M1737.3 1425.0V1443M1882.3 1425.0V1443M2027.3 1425.0V1443" stroke="#222" stroke-width="6" fill="none"/>
</g>
<g id="crisp">
<rect x="258" y="1424.6" width="1946" height="3.6" fill="#000" opacity="0.85"/>
<path d="M287.7 1439L287.2 1455.5M577.7 1439L577.2 1455.5M867.7 1439L867.2 1455.5M1157.7 1439L1157.2 1455.5M1447.7 1439L1447.2 1455.5M1737.7 1439L1737.2 1455.5M2027.7 1439L2027.2 1455.5" stroke="#000" stroke-width="5.2" fill="none"/>
<text x="287.1" y="1520" text-anchor="middle" class="xt">0</text>
<text x="577.1" y="1520" text-anchor="middle" class="xt">200</text>
<text x="867.1" y="1520" text-anchor="middle" class="xt">400</text>
<text x="1157.1" y="1520" text-anchor="middle" class="xt">600</text>
<text x="1447.1" y="1520" text-anchor="middle" class="xt">800</text>
<text x="1737.1" y="1520" text-anchor="middle" class="xt">1000</text>
<text x="2027.1" y="1520" text-anchor="middle" class="xt">1200</text>
<text transform="translate(1228.5 1635.5) scale(1 1.03)" text-anchor="middle" class="xl">Temperature [°C]</text>
</g>
</svg>
</body>
</html>
